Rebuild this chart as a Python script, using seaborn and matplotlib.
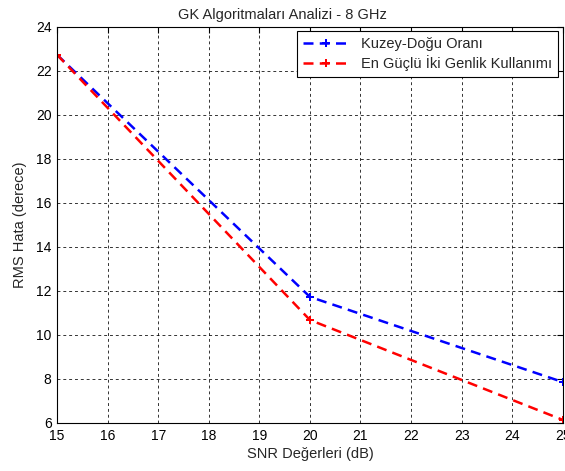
import matplotlib
matplotlib.use("Agg")
import matplotlib.pyplot as plt
import seaborn as sns
import pandas as pd

snr = [15, 20, 25]
kuzey_dogu = [22.73, 11.73, 7.86]
en_guclu = [22.73, 10.68, 6.14]
series_names = ["Kuzey-Doğu Oranı", "En Güçlü İki Genlik Kullanımı"]
colors = ["#0000ff", "#ff0000"]
xticks = list(range(15, 26))
yticks = list(range(6, 25, 2))

sns.set_theme(style="white")
plt.rcParams['font.family'] = ['Liberation Sans', 'DejaVu Sans']

df = pd.DataFrame({
    "snr": snr * 2,
    "rms": kuzey_dogu + en_guclu,
    "series": [series_names[0]] * 3 + [series_names[1]] * 3,
})

fig = plt.figure(figsize=(5.65, 4.71), dpi=100)
ax = fig.add_axes([0.101, 0.102, 0.895, 0.841])

sns.lineplot(data=df, x="snr", y="rms", hue="series", palette=colors,
             hue_order=series_names, ax=ax, linewidth=1.8, linestyle="--",
             marker="P", markersize=6, markeredgewidth=0, legend=True)
for line in ax.lines:
    line.set_dashes([4, 2.5])

ax.set_xlim(15, 25)
ax.set_ylim(6, 24)
ax.set_xticks(xticks)
ax.set_yticks(yticks)
ax.tick_params(direction="in", top=True, right=True, labelsize=10,
               length=4, width=0.8, colors="black", pad=4)
ax.grid(True, color="black", linestyle=(0, (3, 3)), linewidth=0.7, alpha=0.8)
for s in ax.spines.values():
    s.set_color("black")
    s.set_linewidth(0.8)

ax.set_title("GK Algoritmaları Analizi - 8 GHz", fontsize=10.5, pad=6,
             x=(282.5 - 57) / 506)
ax.set_xlabel("SNR Değerleri (dB)", fontsize=10.5, labelpad=3)
ax.set_ylabel("RMS Hata (derece)", fontsize=10.5, labelpad=6)

leg = ax.legend(loc="upper right", fontsize=10.5, frameon=True, fancybox=False,
                edgecolor="black", framealpha=1, borderaxespad=0.3,
                handlelength=3.2, labelspacing=0.3, borderpad=0.4)
leg.get_frame().set_linewidth(0.8)

fig.savefig("out.png", dpi=100)
